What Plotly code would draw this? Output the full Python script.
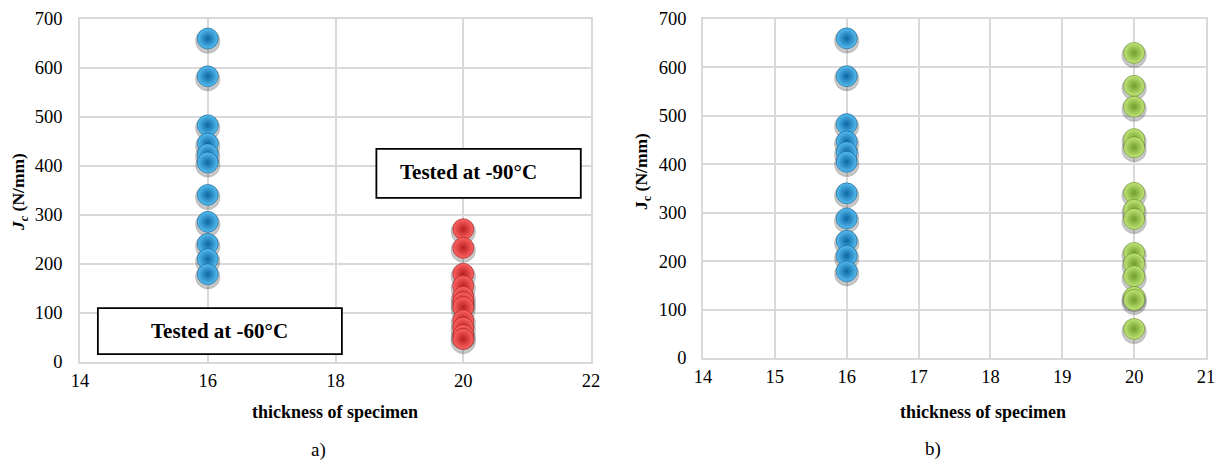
import plotly.graph_objects as go

# ---- data ----
thick_a_blue = 16
thick_a_red = 20
thick_b_blue = 16
thick_b_green = 20

jc_60 = [660, 583, 483, 446, 424, 407, 341, 286, 241, 210, 179]
jc_90 = [271, 233, 180, 155, 133, 122, 112, 85, 70, 55, 47]
jc_b_16 = [660, 582, 483, 447, 425, 405, 340, 288, 242, 211, 179]
jc_b_20 = [630, 562, 519, 452, 435, 341, 306, 287, 217, 195, 169, 126, 120, 60]

xticks_a = [14, 16, 18, 20, 22]
xticks_b = [14, 15, 16, 17, 18, 19, 20, 21]
yticks = [0, 100, 200, 300, 400, 500, 600, 700]

FONT = "Liberation Serif"
GRID = "#d9d9d9"

fig = go.Figure()


def spheres(x, ys, center, edge, line, xa, ya):
    # soft shadow
    fig.add_trace(go.Scatter(
        x=[x] * len(ys), y=[v - 5 for v in ys], mode="markers",
        xaxis=xa, yaxis=ya, hoverinfo="skip",
        marker=dict(size=25, color="rgba(60,60,60,0.35)",
                    gradient=dict(type="radial", color="rgba(60,60,60,0)"),
                    line=dict(width=0)),
        showlegend=False))
    fig.add_trace(go.Scatter(
        x=[x] * len(ys), y=ys, mode="markers", xaxis=xa, yaxis=ya,
        marker=dict(size=21, color=center,
                    gradient=dict(type="radial", color=edge),
                    line=dict(width=0.6, color=line)),
        showlegend=False))


spheres(thick_a_blue, jc_60, "#55bdf0", "#0d66a3", "#0b5b8f", "x", "y")
spheres(thick_a_red, jc_90, "#ff6464", "#b81f1f", "#9a1a1a", "x", "y")
spheres(thick_b_blue, jc_b_16, "#55bdf0", "#0d66a3", "#0b5b8f", "x2", "y2")
spheres(thick_b_green, jc_b_20, "#c2e67a", "#6e9e2a", "#5f8a22", "x2", "y2")

axis_common = dict(showgrid=True, gridcolor=GRID, gridwidth=1.5,
                   showline=True, linecolor=GRID, linewidth=1.5, mirror=True,
                   zeroline=False, ticks="", automargin=False,
                   tickfont=dict(family=FONT, size=18.5, color="#000"))

fig.update_layout(
    width=1224, height=471,
    margin=dict(l=0, r=0, t=0, b=0),
    paper_bgcolor="white", plot_bgcolor="white",
    font=dict(family=FONT, color="#000"),
    xaxis=dict(domain=[80 / 1224, 591 / 1224], range=[14, 22],
               tickvals=xticks_a, anchor="y", ticklabelstandoff=1, **axis_common),
    yaxis=dict(domain=[1 - 362 / 471, 1 - 19 / 471], range=[0, 700],
               tickvals=yticks, anchor="x", ticklabelstandoff=12, **axis_common),
    xaxis2=dict(domain=[703 / 1224, 1206 / 1224], range=[14, 21],
                tickvals=xticks_b, anchor="y2", ticklabelstandoff=1, **axis_common),
    yaxis2=dict(domain=[1 - 358 / 471, 1 - 19 / 471], range=[0, 700],
                tickvals=yticks, anchor="x2", ticklabelstandoff=11, **axis_common),
)

# text boxes (chart a)
fig.add_shape(type="rect", xref="x", yref="y", x0=14.28, x1=18.1, y0=16, y1=110,
              line=dict(color="#000", width=1.8), fillcolor="white", layer="above")
fig.add_shape(type="rect", xref="x", yref="y", x0=18.64, x1=21.84, y0=335, y1=435,
              line=dict(color="#000", width=1.8), fillcolor="white", layer="above")

ann = [
    dict(text="<b>Tested at -60°C</b>", xref="x", yref="y", x=16.19, y=63,
         font=dict(size=21)),
    dict(text="<b>Tested at -90°C</b>", xref="x", yref="y", x=20.08, y=387,
         font=dict(size=21)),
    dict(text="<b>thickness of specimen</b>", xref="paper", yref="paper",
         x=335 / 1224, y=1 - 412 / 471, font=dict(size=18)),
    dict(text="<b>thickness of specimen</b>", xref="paper", yref="paper",
         x=983 / 1224, y=1 - 412 / 471, font=dict(size=18)),
    dict(text="a)", xref="paper", yref="paper", x=318 / 1224, y=1 - 450 / 471,
         font=dict(size=19)),
    dict(text="b)", xref="paper", yref="paper", x=933 / 1224, y=1 - 449 / 471,
         font=dict(size=19)),
    dict(text="<b><i>J</i></b><sub><b><i>c</i></b></sub><b> (N/mm)</b>",
         xref="paper", yref="paper", x=19 / 1224, y=1 - 192 / 471,
         textangle=-90, font=dict(size=17.5)),
    dict(text="<b>J</b><sub><b>c</b></sub><b> (N/mm)</b>",
         xref="paper", yref="paper", x=643 / 1224, y=1 - 172 / 471,
         textangle=-90, font=dict(size=17.5)),
]
for a in ann:
    a.setdefault("showarrow", False)
    a["font"] = dict(family=FONT, color="#000", **a["font"])
    a["xanchor"] = "center"
    a["yanchor"] = "middle"
    fig.add_annotation(**a)

fig.write_html("out.html",
               config={"displayModeBar": False},
               post_script="document.body.style.margin='0';"
                           "document.body.style.overflow='hidden';")
